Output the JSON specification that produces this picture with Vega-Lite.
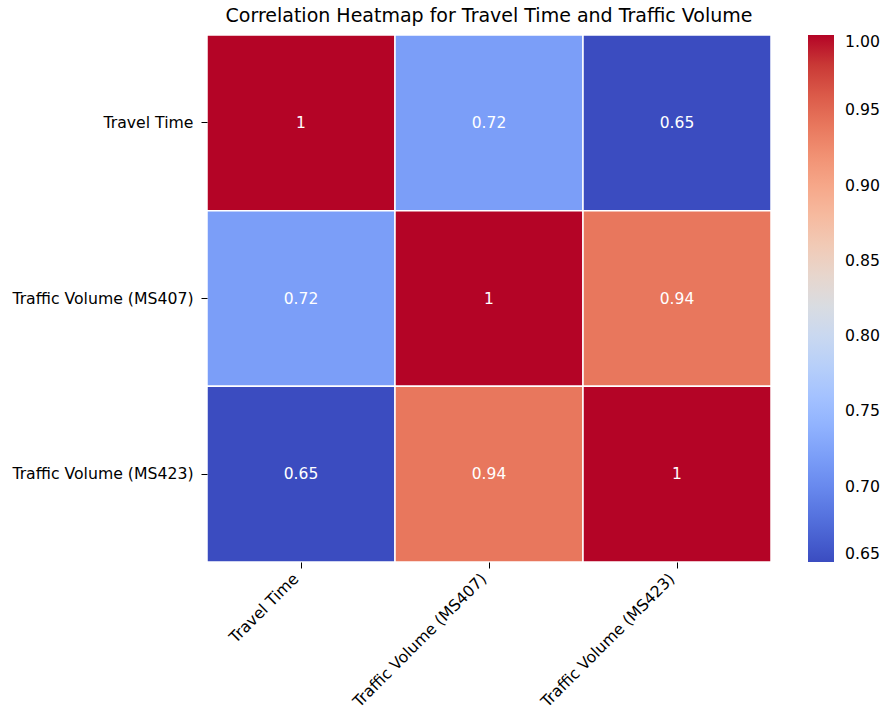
{
  "$schema": "https://vega.github.io/schema/vega-lite/v6.json",
  "width": 564,
  "height": 527,
  "autosize": "none",
  "padding": {"left": 207, "top": 35, "right": 113, "bottom": 151},
  "background": "white",
  "config": {
    "font": "DejaVu Sans",
    "view": {"stroke": null}
  },
  "title": {
    "text": "Correlation Heatmap for Travel Time and Traffic Volume",
    "fontSize": 19,
    "fontWeight": "normal",
    "font": "DejaVu Sans",
    "color": "#000000",
    "anchor": "middle",
    "offset": 8
  },
  "data": {
    "values": [
      {"row": "Travel Time", "col": "Travel Time", "corr": 1},
      {"row": "Travel Time", "col": "Traffic Volume (MS407)", "corr": 0.72},
      {"row": "Travel Time", "col": "Traffic Volume (MS423)", "corr": 0.65},
      {"row": "Traffic Volume (MS407)", "col": "Travel Time", "corr": 0.72},
      {"row": "Traffic Volume (MS407)", "col": "Traffic Volume (MS407)", "corr": 1},
      {"row": "Traffic Volume (MS407)", "col": "Traffic Volume (MS423)", "corr": 0.94},
      {"row": "Traffic Volume (MS423)", "col": "Travel Time", "corr": 0.65},
      {"row": "Traffic Volume (MS423)", "col": "Traffic Volume (MS407)", "corr": 0.94},
      {"row": "Traffic Volume (MS423)", "col": "Traffic Volume (MS423)", "corr": 1}
    ]
  },
  "encoding": {
    "x": {
      "field": "col",
      "type": "nominal",
      "sort": ["Travel Time", "Traffic Volume (MS407)", "Traffic Volume (MS423)"],
      "scale": {"paddingInner": 0, "paddingOuter": 0},
      "axis": {
        "title": null,
        "labelAngle": -45,
        "labelAlign": "right",
        "labelBaseline": "top",
        "labelFontSize": 15.7,
        "labelColor": "#000000",
        "labelPadding": 3,
        "labelOffset": -10,
        "tickSize": 6,
        "tickColor": "#000000",
        "domain": false,
        "labelLimit": 400
      }
    },
    "y": {
      "field": "row",
      "type": "nominal",
      "sort": ["Travel Time", "Traffic Volume (MS407)", "Traffic Volume (MS423)"],
      "scale": {"paddingInner": 0, "paddingOuter": 0},
      "axis": {
        "title": null,
        "labelFontSize": 15.7,
        "labelColor": "#000000",
        "labelPadding": 8,
        "tickSize": 6,
        "tickColor": "#000000",
        "domain": false,
        "labelLimit": 400
      }
    }
  },
  "layer": [
    {
      "mark": {"type": "rect", "stroke": "white", "strokeWidth": 1.5},
      "encoding": {
        "color": {
          "field": "corr",
          "type": "quantitative",
          "scale": {
            "domain": [0.65, 1.0],
            "interpolate": "rgb",
            "range": [
              "rgb(59,76,192)", "rgb(77,104,215)", "rgb(98,130,234)", "rgb(119,154,247)",
              "rgb(141,176,254)", "rgb(163,194,255)", "rgb(184,208,249)", "rgb(204,217,238)",
              "rgb(221,221,221)", "rgb(236,211,197)", "rgb(245,196,172)", "rgb(247,177,147)",
              "rgb(244,154,123)", "rgb(236,127,99)", "rgb(222,96,77)", "rgb(203,62,56)",
              "rgb(180,4,38)"
            ]
          },
          "legend": {
            "title": null,
            "orient": "none",
            "legendX": 601,
            "legendY": 0,
            "direction": "vertical",
            "gradientLength": 527,
            "gradientThickness": 26,
            "gradientStrokeWidth": 0,
            "values": [0.65, 0.7, 0.75, 0.8, 0.85, 0.9, 0.95, 1.0],
            "format": ".2f",
            "labelFontSize": 15.7,
            "labelColor": "#000000",
            "labelOffset": 11,
            "labelOverlap": false
          }
        }
      }
    },
    {
      "mark": {"type": "text", "color": "white", "fontSize": 15.5, "font": "DejaVu Sans"},
      "encoding": {
        "text": {"field": "corr", "type": "quantitative", "format": "~g"}
      }
    }
  ]
}
